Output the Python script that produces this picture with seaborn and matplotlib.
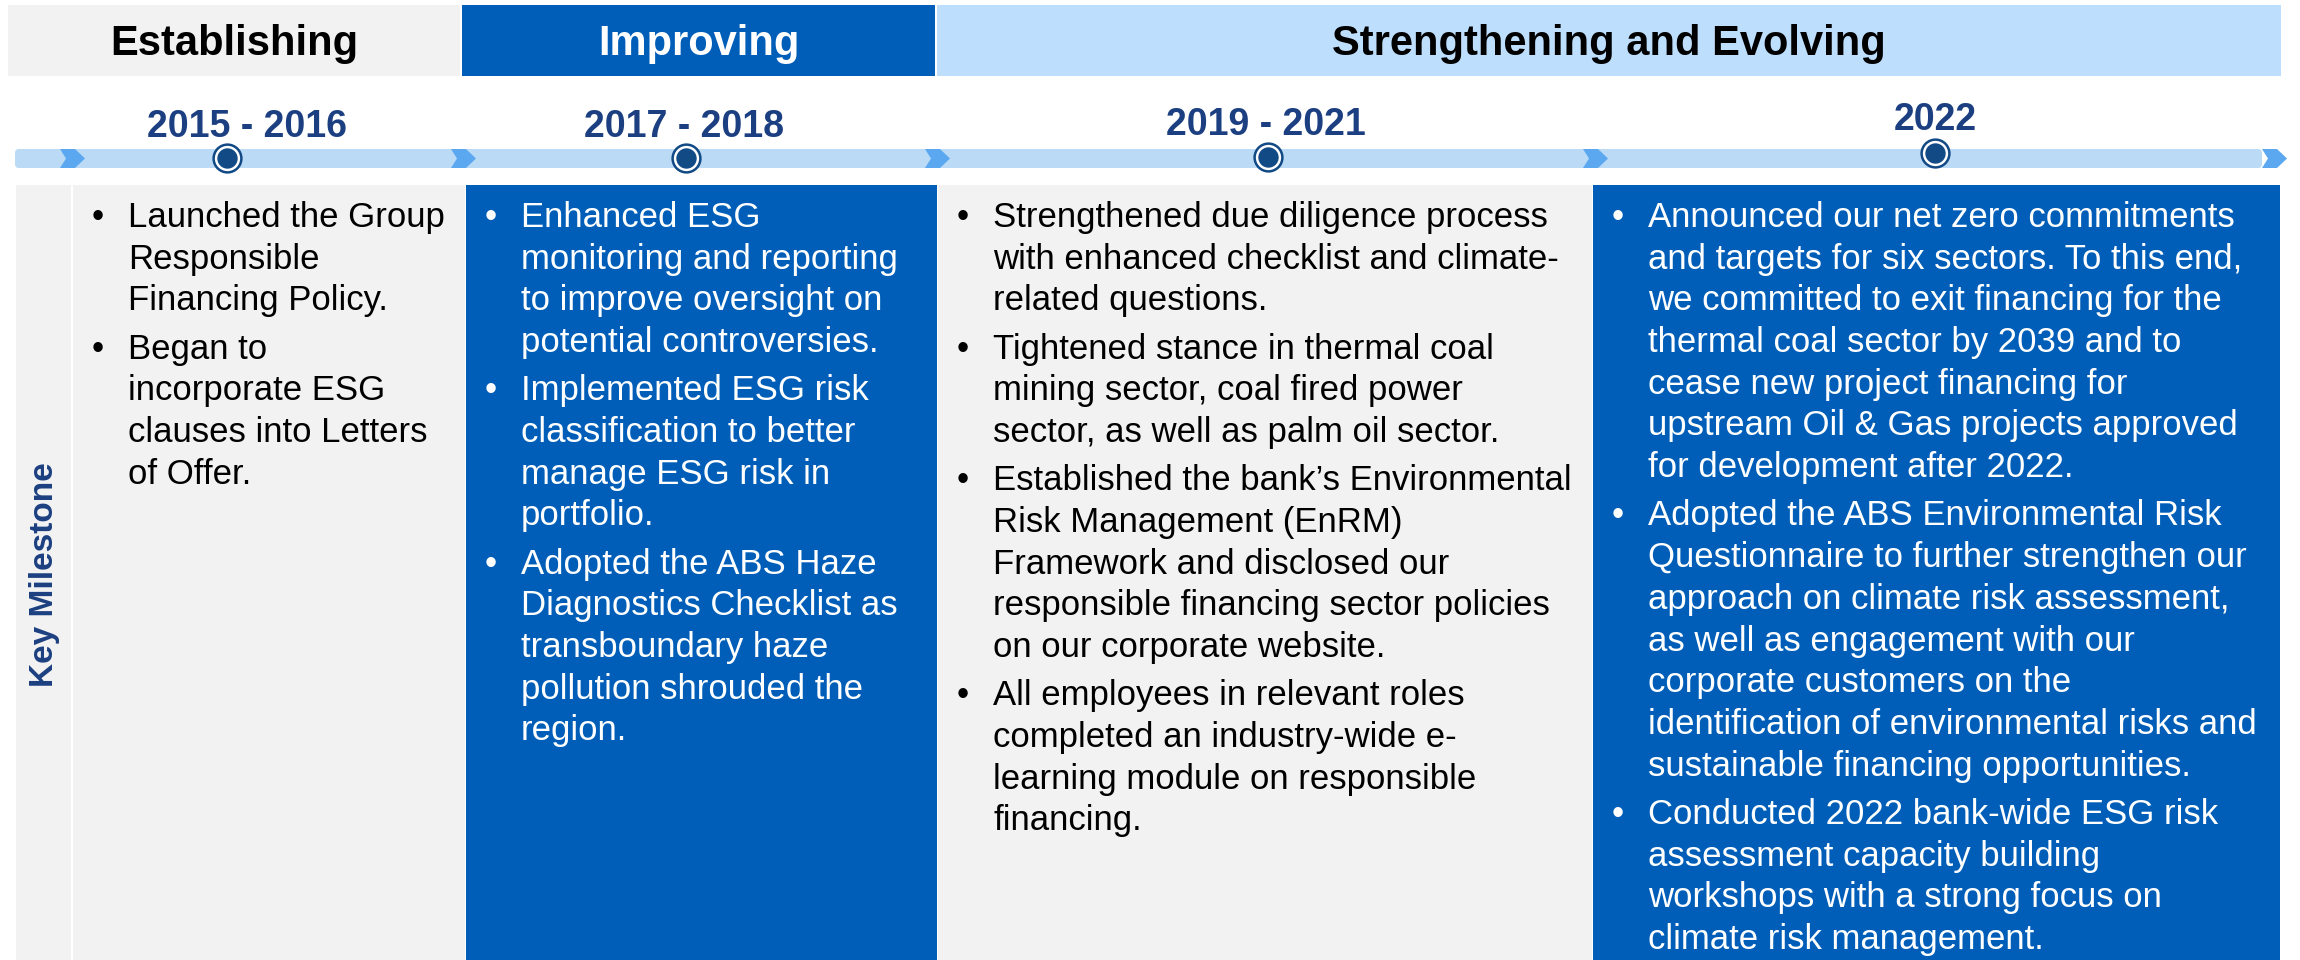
import pandas as pd
import matplotlib.pyplot as plt
from matplotlib.patches import FancyBboxPatch, Polygon
import seaborn as sns

# ==========================================
# 1. DADOS (textos da linha do tempo)
# ==========================================
phase_names = ["Establishing", "Improving", "Strengthening and Evolving"]
periods = ["2015 - 2016", "2017 - 2018", "2019 - 2021", "2022"]
row_label = "Key Milestone"

milestones_2015_2016 = [
    ["Launched the Group", "Responsible", "Financing Policy."],
    ["Began to", "incorporate ESG", "clauses into Letters", "of Offer."],
]
milestones_2017_2018 = [
    ["Enhanced ESG", "monitoring and reporting", "to improve oversight on",
     "potential controversies."],
    ["Implemented ESG risk", "classification to better", "manage ESG risk in",
     "portfolio."],
    ["Adopted the ABS Haze", "Diagnostics Checklist as", "transboundary haze",
     "pollution shrouded the", "region."],
]
milestones_2019_2021 = [
    ["Strengthened due diligence process", "with enhanced checklist and climate-",
     "related questions."],
    ["Tightened stance in thermal coal", "mining sector, coal fired power",
     "sector, as well as palm oil sector."],
    ["Established the bank\u2019s Environmental", "Risk Management (EnRM)",
     "Framework and disclosed our", "responsible financing sector policies",
     "on our corporate website."],
    ["All employees in relevant roles", "completed an industry-wide e-",
     "learning module on responsible", "financing."],
]
milestones_2022 = [
    ["Announced our net zero commitments", "and targets for six sectors. To this end,",
     "we committed to exit financing for the", "thermal coal sector by 2039 and to",
     "cease new project financing for", "upstream Oil & Gas projects approved",
     "for development after 2022."],
    ["Adopted the ABS Environmental Risk", "Questionnaire to further strengthen our",
     "approach on climate risk assessment,", "as well as engagement with our",
     "corporate customers on the", "identification of environmental risks and",
     "sustainable financing opportunities."],
    ["Conducted 2022 bank-wide ESG risk", "assessment capacity building",
     "workshops with a strong focus on", "climate risk management."],
]
milestones = [milestones_2015_2016, milestones_2017_2018,
              milestones_2019_2021, milestones_2022]

# ==========================================
# 2. LAYOUT E CORES (em pixels da figura)
# ==========================================
W, H = 2300, 960
GRAY = "#F2F2F2"
BLUE = "#005EB8"
LIGHT = "#BDDEFC"
BAR = "#BBDAF6"
CHEVRON = "#5BA8F0"
NAVY = "#1B3F80"
DOT = "#124A86"

phase_span = [(8, 460), (462, 935), (937, 2281)]
phase_bg = [GRAY, BLUE, LIGHT]
phase_fg = ["black", "white", "black"]
header_top, header_bot = 5, 76

col_span = [(73, 465), (466, 937), (938, 1592), (1593, 2280)]
col_bg = [GRAY, BLUE, GRAY, BLUE]
col_fg = ["black", "white", "black", "white"]
label_span = (16, 71)
content_top = 185

bar_top, bar_bot = 149, 168
chevron_x = [60, 451, 925, 1583, 2262]
marker_x = [227, 686, 1268, 1935]
marker_y = [158, 158, 157, 153]
year_x = [247, 684, 1266, 1935]
year_base = [137, 137, 135, 130]

first_base = 227
line_gap = 41.7
para_gap = 6.5

sns.set_theme(style="white")
plt.rcParams['font.family'] = ['Liberation Sans', 'DejaVu Sans']

fig = plt.figure(figsize=(23, 9.6), dpi=100)
ax = fig.add_axes([0, 0, 1, 1])
ax.set_xlim(0, W)
ax.set_ylim(H, 0)
ax.axis('off')

# ---- cabeçalho das fases ----
for (x0, x1), bg, fg, nome in zip(phase_span, phase_bg, phase_fg, phase_names):
    ax.bar(x=(x0 + x1) / 2, height=header_bot - header_top, width=x1 - x0,
           bottom=header_top, color=bg, linewidth=0)
    ax.text((x0 + x1) / 2, 55, nome, ha='center', va='baseline',
            fontsize=30, fontweight='bold', color=fg)

# ---- barra da linha do tempo ----
ax.add_patch(FancyBboxPatch((15, bar_top), 2262 - 15, bar_bot - bar_top,
                            boxstyle="round,pad=0,rounding_size=4",
                            facecolor=BAR, edgecolor='none'))
mid = (bar_top + bar_bot) / 2
for cx in chevron_x:
    ax.add_patch(Polygon([(cx, bar_top), (cx + 15, bar_top), (cx + 25, mid),
                          (cx + 15, bar_bot), (cx, bar_bot), (cx + 6, mid)],
                         closed=True, facecolor=CHEVRON, edgecolor='none'))

df_marks = pd.DataFrame({"periodo": periods, "x": marker_x, "y": marker_y})
sns.scatterplot(data=df_marks, x="x", y="y", ax=ax, s=400, color="white",
                edgecolor=DOT, linewidth=1.8, legend=False, zorder=5)
sns.scatterplot(data=df_marks, x="x", y="y", ax=ax, s=215, color=DOT,
                edgecolor=DOT, linewidth=0, legend=False, zorder=6)
ax.set_xlim(0, W)
ax.set_ylim(H, 0)
ax.axis('off')

for xp, yb, per in zip(year_x, year_base, periods):
    ax.text(xp, yb, per, ha='center', va='baseline', fontsize=27,
            fontweight='bold', color=NAVY)

# ---- coluna "Key Milestone" ----
ax.bar(x=sum(label_span) / 2, height=H - content_top, width=label_span[1] - label_span[0],
       bottom=content_top, color=GRAY, linewidth=0)
ax.text(45, 575, row_label, rotation=90, ha='center', va='center',
        fontsize=24, fontweight='bold', color=NAVY)

# ---- colunas de marcos ----
for (x0, x1), bg, fg, paras in zip(col_span, col_bg, col_fg, milestones):
    ax.bar(x=(x0 + x1) / 2, height=H - content_top, width=x1 - x0,
           bottom=content_top, color=bg, linewidth=0)
    y = first_base
    for linhas in paras:
        for i, linha in enumerate(linhas):
            if i == 0:
                ax.text(x0 + 25, y, "\u2022", ha='center', va='baseline',
                        fontsize=25, color=fg)
            ax.text(x0 + 55, y, linha, ha='left', va='baseline',
                    fontsize=25, color=fg)
            y += line_gap
        y += para_gap

fig.savefig("out.png", dpi=100)
plt.close(fig)
